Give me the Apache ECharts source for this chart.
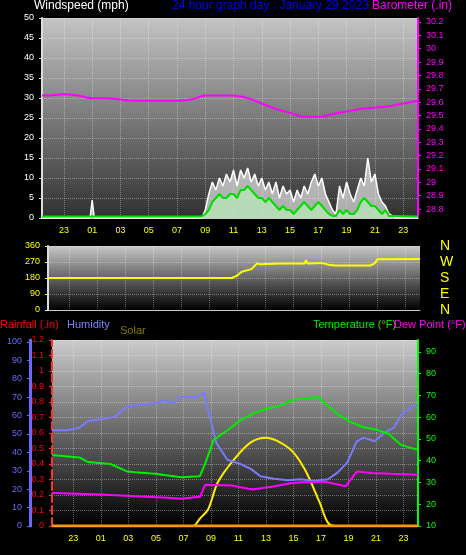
<!DOCTYPE html>
<html><head><meta charset="utf-8">
<script src="https://cdn.jsdelivr.net/npm/echarts@6/dist/echarts.min.js"></script>
<style>html,body{margin:0;padding:0;background:#000;}#c{width:466px;height:555px;}</style>
</head><body><div id="c"></div>
<script>
const tickHours=[-1,1,3,5,7,9,11,13,15,17,19,21,23];
const baroHours=[-2.55,-2,-1,0,1,2,3,4,5,6,7,8,9,10,11,12,13,14,15,16,17,18,19,20,21,22,23,24,24.05];
const baro=[29.65,29.65,29.66,29.65,29.63,29.63,29.62,29.61,29.61,29.61,29.61,29.62,29.65,29.65,29.65,29.63,29.59,29.55,29.52,29.49,29.49,29.51,29.53,29.55,29.56,29.57,29.59,29.61,29.62];
const windHours=[-2.55,0.85,1.0,1.15,8.75,9,9.25,9.5,9.75,10,10.25,10.5,10.75,11,11.25,11.5,11.75,12,12.25,12.5,12.75,13,13.25,13.5,13.75,14,14.25,14.5,14.75,15,15.25,15.5,15.75,16,16.25,16.5,16.75,17,17.25,17.5,17.75,18,18.25,18.5,18.75,19,19.25,19.5,19.75,20,20.25,20.5,20.75,21,21.25,21.5,21.75,22,22.25,22.5,24.05];
const windGust=[0,0,4.5,0,0,2,6,9,7,10,8,11,9,12,8,12,10,12.5,9,11,8,10,7,9,6,9,5,8,6,7,4,7,5,8,6,9,11,8,10,6,4,2,1,8,5,9,6,4,7,10,8,15,9,11,6,4,3,1,0.5,0,0];
const windAvg=[0.4,0.4,0.4,0.4,0.4,1,2,4,5,6,5,5,6,6,5,7,7,8,7,6,5,5,4,5,4,3,2,3,2,2,1,2,3,4,3,2,3,4,3,2,1,0.5,0.5,2,1,2,1,1,2,4,5,4,3,3,2,1,2,0.5,0.5,0.5,0.4];
const dirHours=[-2.55,1,1.1,8,10.6,11,11.3,12,12.4,12.6,14,15.8,15.9,16,17,17.5,18,20.5,20.8,21,22,24.05];
const windDir=[180,180,178,180,180,195,215,230,262,258,262,262,280,262,265,255,250,250,262,285,285,287];
const humHours=[-2.55,-2.4,-1.5,-0.56,0.07,1,2,3,3.5,4.9,5.6,6.3,6.8,8,8.5,8.9,9.4,10.2,11.2,11.9,12.6,13.6,14.6,15.5,16.5,17.5,18.2,18.9,19.6,20.1,20.9,21.6,22.3,22.8,23.6,24.05];
const humidity=[52,52,52,53.4,57,58,59.4,65,65.6,66.7,68,67,70,70,72.5,60,45,36,33.5,31,27,25.7,24.8,25.4,24.5,25.4,29,34.4,46,48,46,50.7,53.4,60,65,65.6];
const tempHours=[-2.55,-2.4,-0.56,0.07,1.7,2.9,3.5,4.9,6.3,6.8,8.2,8.6,9.2,10.2,11.2,12.1,13.1,14.0,15.0,16.0,16.8,17.4,18.4,19.1,20.1,20.9,21.9,22.8,24.05];
const temperature=[42.5,42.5,41.5,39.4,38.5,35.1,34.7,34,32.9,32.4,32.9,39,49.6,54,58.8,61.8,64,65.2,68,68.7,69.4,65.6,60.6,58,55.4,54.5,52.4,47.3,45];
const dewHours=[-2.55,-2.4,1,3.5,5.9,6.8,8.2,8.6,10.5,12.0,13.4,14.9,15.8,17.3,18.8,19.6,20.7,22.1,24.05];
const dewPoint=[25.2,25.2,24.5,23.7,23,22.5,23.4,29,28.6,26.8,28,29.8,30.1,30.3,28.3,35,34.4,34,33.6];
const solarHours=[-2.55,7.7,8.2,8.8,9.5,10.7,11.9,13.0,14.7,15.8,16.9,17.5,18.1,24.05];
const solar=[0,0,40,90,235,360,450,475,417,308,127,18,0,0];
const rainHours=[-2.55,24.05];
const rainfall=[0,0];
const baroTicks=[28.8,28.9,29,29.1,29.2,29.3,29.4,29.5,29.6,29.7,29.8,29.9,30,30.1,30.2];
const tempTicks=[10,20,30,40,50,60,70,80,90];

const pair=(a,b)=>a.map((t,i)=>[t,b[i]]);
const bg=(c1,c2)=>({type:'linear',x:0,y:0,x2:0,y2:1,colorStops:[{offset:0,color:c1},{offset:1,color:c2}]});
const xBase=(gi,show)=>({type:'value',gridIndex:gi,min:-2.55,max:24.05,
  axisLine:{show:true,onZero:false,lineStyle:{color:'#ccc'}},
  axisTick:{show:false,customValues:tickHours},
  splitLine:{show:true,lineStyle:{color:'rgba(255,255,255,0.35)',type:'dotted'}},
  axisLabel:{show:show,customValues:tickHours,color:'#ffff00',fontSize:9,margin:8,
    formatter:v=>{let h=((Math.round(v)%24)+24)%24;return (h<10?'0':'')+h;}}});
const ys=(c)=>({color:c,fontSize:9});
const dirNames={0:'N',90:'E',180:'S',270:'W',360:'N'};
const grid=(c)=>({lineStyle:{color:c,type:'dotted'}});
const ch=echarts.init(document.getElementById('c'));
ch.setOption({
 backgroundColor:'#000',animation:false,
 grid:[
  {left:42,right:48,top:18,height:200,show:true,borderWidth:0,backgroundColor:bg('#c4c4c4','#303030')},
  {left:48,right:46,top:246,height:64,show:true,borderWidth:0,backgroundColor:bg('#c8c8c8','#000')},
  {left:52,right:48,top:340,height:186,show:true,borderWidth:0,backgroundColor:bg('#cccccc','#000')}
 ],
 xAxis:[xBase(0,true),xBase(1,false),xBase(2,true)],
 yAxis:[
  {type:'value',gridIndex:0,position:'left',min:0,max:50,interval:5,axisLine:{show:true,onZero:false,lineStyle:{color:'#ddd',width:2}},axisTick:{show:true,length:3},axisLabel:ys('#ffffff'),splitLine:grid('rgba(255,255,255,0.35)')},
  {type:'value',gridIndex:0,position:'right',min:28.733,max:30.23,axisLine:{show:true,onZero:false,lineStyle:{color:'#ff00ff',width:2}},axisTick:{show:true,length:3,customValues:baroTicks},axisLabel:{color:'#ff00ff',fontSize:9,customValues:baroTicks,formatter:v=>String(+v.toFixed(1))},splitLine:{show:false}},
  {type:'value',gridIndex:1,position:'left',min:0,max:360,interval:90,axisLine:{show:true,onZero:false,lineStyle:{color:'#ddd',width:2}},axisTick:{show:true,length:3},axisLabel:ys('#ffff00'),splitLine:grid('rgba(255,255,255,0.35)')},
  {type:'value',gridIndex:1,position:'right',min:0,max:360,interval:90,offset:12,axisLine:{show:false,onZero:false},axisTick:{show:false},axisLabel:{color:'#ffff00',fontSize:14,formatter:v=>dirNames[v]},splitLine:{show:false}},
  {type:'value',gridIndex:2,position:'left',min:0,max:101,interval:10,offset:22,axisLine:{show:true,onZero:false,lineStyle:{color:'#6a6aff',width:3}},axisTick:{show:true,length:3},axisLabel:ys('#6a6aff'),splitLine:{show:false}},
  {type:'value',gridIndex:2,position:'left',min:0,max:1.2,interval:0.1,axisLine:{show:true,onZero:false,lineStyle:{color:'#ff3030',type:'dashed',width:2}},axisTick:{show:true,length:3},axisLabel:{color:'#ff0000',fontSize:9,formatter:v=>String(+v.toFixed(1))},splitLine:grid('rgba(255,255,255,0.35)')},
  {type:'value',gridIndex:2,position:'right',min:10,max:95.5,axisLine:{show:true,onZero:false,lineStyle:{color:'#00ff00',width:2}},axisTick:{show:true,length:3,customValues:tempTicks},axisLabel:{color:'#00ff00',fontSize:9,customValues:tempTicks},splitLine:{show:false}},
  {type:'value',gridIndex:2,position:'right',min:0,max:1000,show:false}
 ],
 series:[
  {type:'line',xAxisIndex:0,yAxisIndex:0,data:pair(windHours,windGust),symbol:'none',lineStyle:{color:'#ffffff',width:1.5},areaStyle:{color:'rgba(245,245,245,0.9)'}},
  {type:'line',xAxisIndex:0,yAxisIndex:0,data:pair(windHours,windAvg),symbol:'none',lineStyle:{color:'#00dd00',width:2},areaStyle:{color:'#b8ecb8'}},
  {type:'line',xAxisIndex:0,yAxisIndex:1,data:pair(baroHours,baro),symbol:'none',smooth:0.3,lineStyle:{color:'#ff00ff',width:2}},
  {type:'line',xAxisIndex:1,yAxisIndex:2,data:pair(dirHours,windDir),symbol:'none',lineStyle:{color:'#ffff00',width:2}},
  {type:'line',xAxisIndex:2,yAxisIndex:7,data:pair(solarHours,solar),symbol:'none',smooth:0.3,lineStyle:{color:'#ffee00',width:2}},
  {type:'line',xAxisIndex:2,yAxisIndex:5,data:pair(rainHours,rainfall),symbol:'none',lineStyle:{color:'#ff9900',width:3}},
  {type:'line',xAxisIndex:2,yAxisIndex:4,data:pair(humHours,humidity),symbol:'none',lineStyle:{color:'#7a7aff',width:2}},
  {type:'line',xAxisIndex:2,yAxisIndex:6,data:pair(tempHours,temperature),symbol:'none',lineStyle:{color:'#00ee00',width:2}},
  {type:'line',xAxisIndex:2,yAxisIndex:6,data:pair(dewHours,dewPoint),symbol:'none',lineStyle:{color:'#ff00ff',width:2}}
 ],
 graphic:[
  {type:'text',left:34,top:0,style:{text:'Windspeed (mph)',fill:'#fff',font:'12px sans-serif'}},
  {type:'text',left:172,top:0,style:{text:'24 hour graph day : January 29 2023',fill:'#0000ff',font:'12px sans-serif'}},
  {type:'text',left:372,top:0,style:{text:'Barometer (.in)',fill:'#ff00ff',font:'12px sans-serif'}},
  {type:'text',left:0,top:319,style:{text:'Rainfall (.in)',fill:'#ff0000',font:'11px sans-serif'}},
  {type:'text',left:67,top:319,style:{text:'Humidity',fill:'#8080ff',font:'11px sans-serif'}},
  {type:'text',left:120,top:325,style:{text:'Solar',fill:'#808000',font:'11px sans-serif'}},
  {type:'text',left:313,top:319,style:{text:'Temperature (°F)',fill:'#00ee00',font:'11px sans-serif'}},
  {type:'text',left:394,top:319,style:{text:'Dew Point (°F)',fill:'#ff00ff',font:'11px sans-serif'}}
 ]
});
</script></body></html>
